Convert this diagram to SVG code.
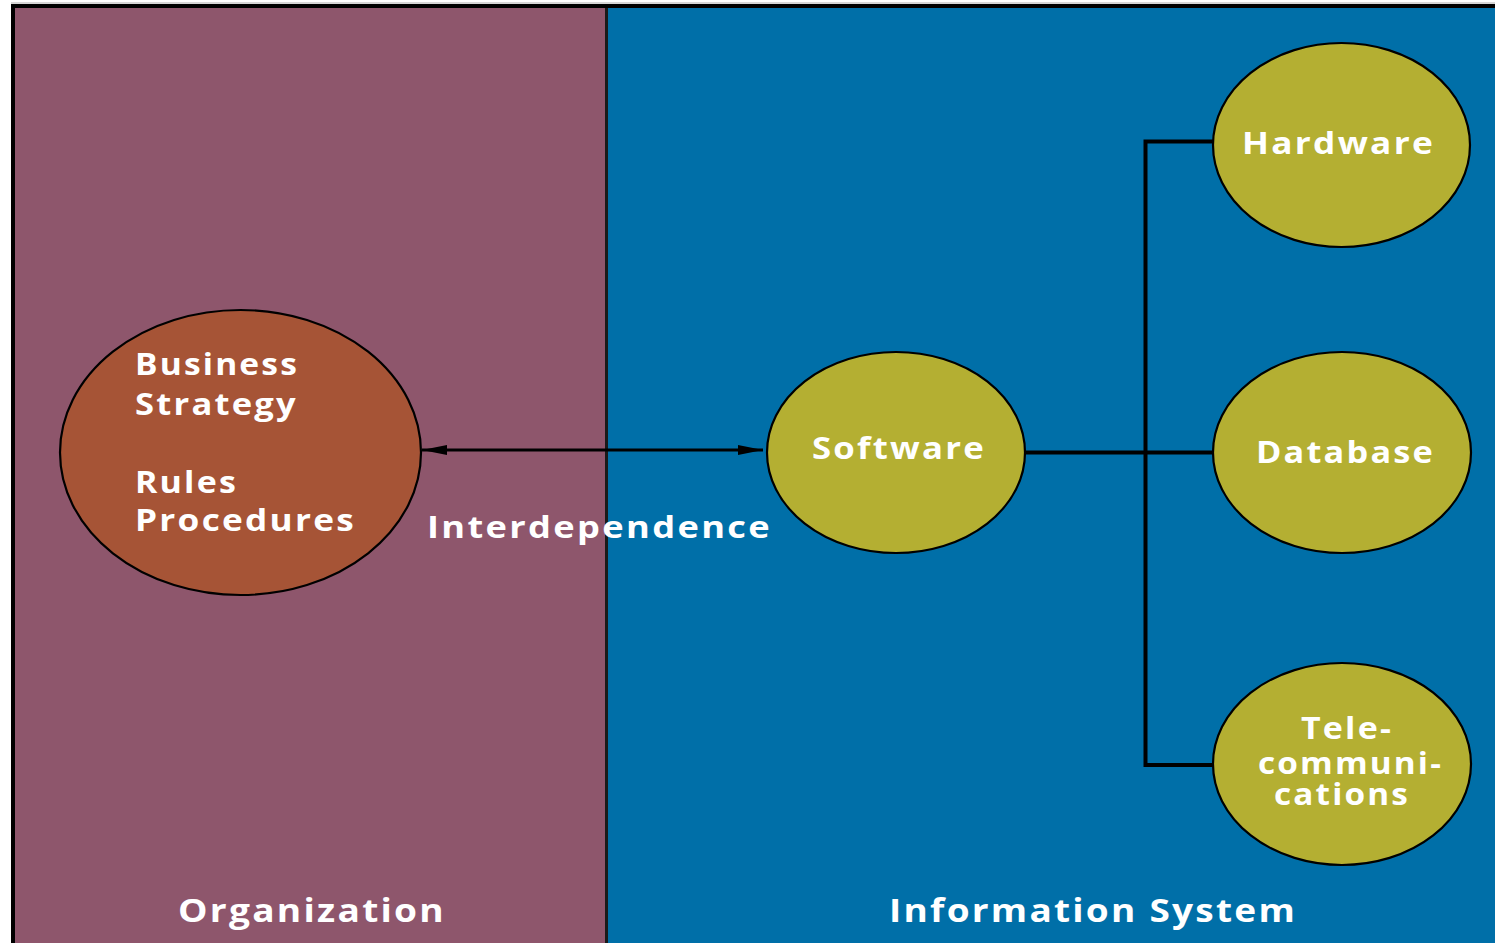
<svg xmlns="http://www.w3.org/2000/svg" width="1495" height="943" viewBox="0 0 1495 943">
  <style>
    .lbl { font-family: "Open Sans", "Liberation Sans", sans-serif; font-weight: 700; font-size: 31px; letter-spacing: 2px; fill: #ffffff; }
    .big { font-size: 33px; }
    .node { stroke: #000000; stroke-width: 2.2; }
    .is { fill: #b4af32; }
    .org { fill: #a65436; }
    .conn { fill: none; stroke: #000000; stroke-width: 4; }
  </style>
  <defs>
    <marker id="ah" viewBox="0 0 25 10" refX="25" refY="5" markerWidth="25" markerHeight="10" markerUnits="userSpaceOnUse" orient="auto-start-reverse">
      <path d="M0,0 L25,5 L0,10 z" fill="#000000"/>
    </marker>
  </defs>
  <rect x="0" y="0" width="1495" height="943" fill="#ffffff"/>
  <g id="panels">
    <rect x="13" y="6" width="594" height="937" fill="#8e566c"/>
    <rect x="607" y="6" width="888" height="937" fill="#006fa8"/>
    <line x1="11" y1="3" x2="1495" y2="3" stroke="#c8c8c8" stroke-width="1.5"/>
    <line x1="11" y1="6" x2="1495" y2="6" stroke="#000000" stroke-width="4"/>
    <line x1="13" y1="4" x2="13" y2="943" stroke="#000000" stroke-width="4"/>
    <line x1="606.5" y1="8" x2="606.5" y2="943" stroke="#1a1a1a" stroke-width="3"/>
    <text class="lbl big" x="178" y="922" textLength="268" lengthAdjust="spacingAndGlyphs">Organization</text>
    <text class="lbl big" x="889" y="922" textLength="408" lengthAdjust="spacingAndGlyphs">Information System</text>
  </g>
  <g id="connectors">
    <line x1="422" y1="450" x2="763" y2="450" stroke="#000000" stroke-width="3" marker-start="url(#ah)" marker-end="url(#ah)"/>
    <text class="lbl" x="427" y="538" textLength="345" lengthAdjust="spacingAndGlyphs">Interdependence</text>
    <path class="conn" d="M1025,452.5 H1213"/>
    <path class="conn" d="M1213,141.5 H1145.5 V765 H1213"/>
  </g>
  <g id="node-business">
    <ellipse class="node org" cx="240.5" cy="452.5" rx="180.5" ry="142.5"/>
    <text class="lbl" x="135" y="375" textLength="164" lengthAdjust="spacingAndGlyphs">Business</text>
    <text class="lbl" x="135" y="415" textLength="163" lengthAdjust="spacingAndGlyphs">Strategy</text>
    <text class="lbl" x="135" y="493" textLength="103" lengthAdjust="spacingAndGlyphs">Rules</text>
    <text class="lbl" x="135" y="531" textLength="221" lengthAdjust="spacingAndGlyphs">Procedures</text>
  </g>
  <g id="node-software">
    <ellipse class="node is" cx="896" cy="452.5" rx="129" ry="100.5"/>
    <text class="lbl" x="812" y="459" textLength="174" lengthAdjust="spacingAndGlyphs">Software</text>
  </g>
  <g id="node-hardware">
    <ellipse class="node is" cx="1341.5" cy="145" rx="128.5" ry="102"/>
    <text class="lbl" x="1242" y="154" textLength="193" lengthAdjust="spacingAndGlyphs">Hardware</text>
  </g>
  <g id="node-database">
    <ellipse class="node is" cx="1342" cy="452.5" rx="129" ry="100.5"/>
    <text class="lbl" x="1256" y="463" textLength="179" lengthAdjust="spacingAndGlyphs">Database</text>
  </g>
  <g id="node-telecom">
    <ellipse class="node is" cx="1342" cy="764" rx="129" ry="101"/>
    <text class="lbl" x="1301" y="739" textLength="92" lengthAdjust="spacingAndGlyphs">Tele-</text>
    <text class="lbl" x="1258" y="774" textLength="185" lengthAdjust="spacingAndGlyphs">communi-</text>
    <text class="lbl" x="1274" y="805" textLength="136" lengthAdjust="spacingAndGlyphs">cations</text>
  </g>
</svg>
